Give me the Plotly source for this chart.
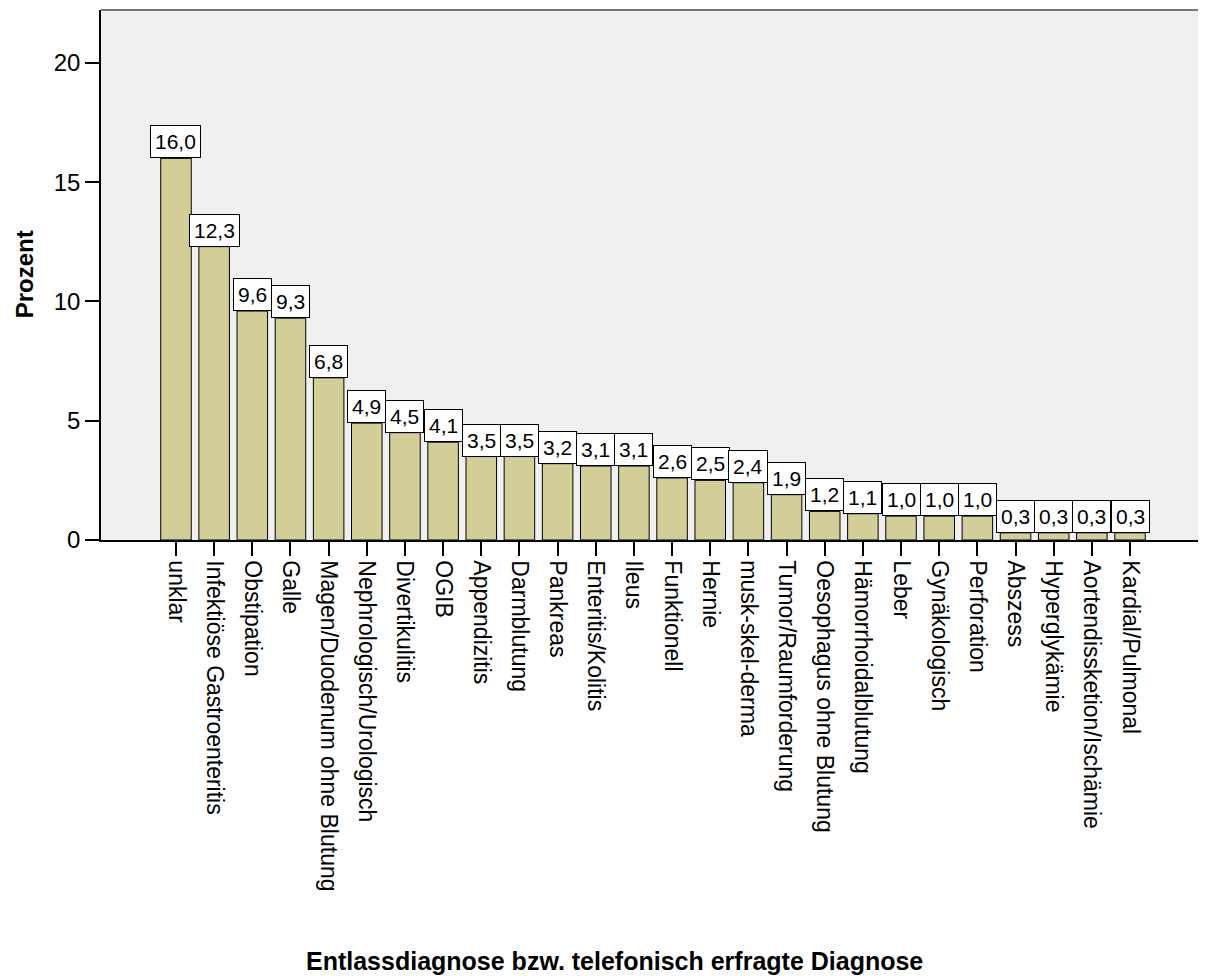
import plotly.graph_objects as go

categories = ["unklar", "Infektiöse Gastroenteritis", "Obstipation", "Galle",
              "Magen/Duodenum ohne Blutung", "Nephrologisch/Urologisch", "Divertikulitis",
              "OGIB", "Appendizitis", "Darmblutung", "Pankreas", "Enteritis/Kolitis", "Ileus",
              "Funktionell", "Hernie", "musk-skel-derma", "Tumor/Raumforderung",
              "Oesophagus ohne Blutung", "Hämorrhoidalblutung", "Leber", "Gynäkologisch",
              "Perforation", "Abszess", "Hyperglykämie", "Aortendissketion/Ischämie",
              "Kardial/Pulmonal"]
values = [16.0, 12.3, 9.6, 9.3, 6.8, 4.9, 4.5, 4.1, 3.5, 3.5, 3.2, 3.1, 3.1,
          2.6, 2.5, 2.4, 1.9, 1.2, 1.1, 1.0, 1.0, 1.0, 0.3, 0.3, 0.3, 0.3]
y_ticks = [0, 5, 10, 15, 20]

FONT = "Liberation Sans, Arial, sans-serif"

fig = go.Figure()
fig.add_trace(go.Bar(
    x=categories, y=values, width=0.8,
    marker=dict(color="#D3CE97", line=dict(color="#000000", width=1)),
    hoverinfo="x+y",
))

for c, v in zip(categories, values):
    fig.add_annotation(
        x=c, y=v, xref="x", yref="y", text=f"{v:.1f}".replace(".", ","),
        showarrow=False, yanchor="bottom", xanchor="center",
        font=dict(family=FONT, size=21, color="#000000"),
        bgcolor="#FFFFFF", bordercolor="#000000", borderwidth=1, borderpad=4,
    )

# axis titles as annotations
fig.add_annotation(
    text="<b>Entlassdiagnose bzw. telefonisch erfragte Diagnose</b>",
    xref="paper", yref="paper", x=0.465, y=-0.795, xanchor="center", yanchor="middle",
    showarrow=False, font=dict(family=FONT, size=25, color="#000000"),
)
fig.add_annotation(
    text="<b>Prozent</b>", textangle=-90,
    xref="paper", yref="paper", x=-0.0685, y=0.502, xanchor="center", yanchor="middle",
    showarrow=False, font=dict(family=FONT, size=24, color="#000000"),
)

# frame top/right
fig.add_shape(type="line", xref="paper", yref="paper", x0=0, x1=1, y0=1, y1=1,
              line=dict(color="#777777", width=2))
fig.add_shape(type="line", xref="paper", yref="paper", x0=1, x1=1, y0=0, y1=1,
              line=dict(color="#777777", width=2))

fig.update_layout(
    width=1198, height=968,
    margin=dict(l=93, r=1, t=2, b=436),
    paper_bgcolor="#FFFFFF", plot_bgcolor="#F0F0F0",
    showlegend=False,
    font=dict(family=FONT, color="#000000"),
    xaxis=dict(
        type="category", range=[-1.965, 26.965],
        showgrid=False, zeroline=False,
        showline=True, linecolor="#000000", linewidth=1.5,
        ticks="outside", ticklen=14, tickcolor="#000000", tickwidth=1.5,
        tickangle=90, tickfont=dict(family=FONT, size=23, color="#000000"),
    ),
    yaxis=dict(
        range=[0, 22.22], tickvals=y_ticks, ticktext=[str(t) for t in y_ticks],
        showgrid=False, zeroline=False,
        showline=True, linecolor="#000000", linewidth=1.5,
        ticks="outside", ticklen=14, tickcolor="#000000", tickwidth=1.5,
        tickfont=dict(family=FONT, size=24, color="#000000"),
    ),
    bargap=0.2,
)

fig.write_html("out.html")
